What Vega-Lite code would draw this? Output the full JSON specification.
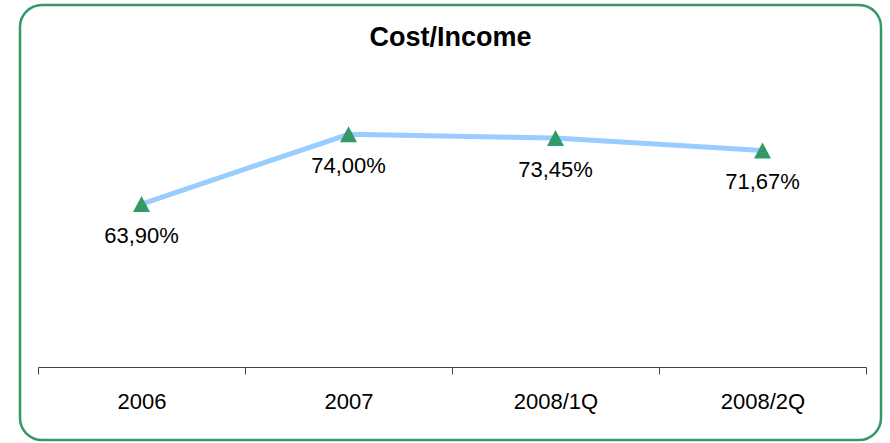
{
  "$schema": "https://vega.github.io/schema/vega-lite/v6.json",
  "autosize": "none",
  "width": 861,
  "height": 435,
  "padding": {"left": 20, "top": 5, "right": 9, "bottom": 3},
  "background": "white",
  "title": {
    "text": "Cost/Income",
    "fontSize": 27,
    "fontWeight": "bold",
    "font": "Liberation Sans",
    "color": "black",
    "anchor": "middle",
    "baseline": "alphabetic",
    "offset": -68
  },
  "config": {
    "view": {"stroke": "#339966", "strokeWidth": 2.5, "cornerRadius": 22},
    "locale": {
      "number": {"decimal": ",", "thousands": ".", "grouping": [3], "currency": ["", " €"]}
    }
  },
  "data": {
    "values": [
      {"period": "2006", "value": 0.639},
      {"period": "2007", "value": 0.74},
      {"period": "2008/1Q", "value": 0.7345},
      {"period": "2008/2Q", "value": 0.7167}
    ]
  },
  "encoding": {
    "x": {
      "field": "period",
      "type": "nominal",
      "sort": null,
      "scale": {"range": [18, 846], "paddingInner": 0, "paddingOuter": 0},
      "axis": {
        "orient": "bottom",
        "offset": -73,
        "title": null,
        "labelAngle": 0,
        "tickBand": "extent",
        "tickSize": 7,
        "tickColor": "#444",
        "domainColor": "#444",
        "labelPadding": 34,
        "labelBaseline": "alphabetic",
        "labelFont": "Liberation Sans",
        "labelFontSize": 22,
        "labelColor": "black",
        "grid": false
      }
    },
    "y": {
      "field": "value",
      "type": "quantitative",
      "scale": {"domain": [0.297, 0.9274], "nice": false, "zero": false},
      "axis": null
    }
  },
  "layer": [
    {"mark": {"type": "line", "color": "#99ccff", "strokeWidth": 5}},
    {"mark": {"type": "point", "shape": "M0,-0.94L-1,0.94L1,0.94Z", "size": 289, "filled": true, "color": "#339966", "opacity": 1}},
    {
      "mark": {"type": "text", "dy": 39, "baseline": "alphabetic", "align": "center", "font": "Liberation Sans", "fontSize": 22, "color": "black"},
      "encoding": {"text": {"field": "value", "type": "quantitative", "format": ".2%"}}
    }
  ]
}
